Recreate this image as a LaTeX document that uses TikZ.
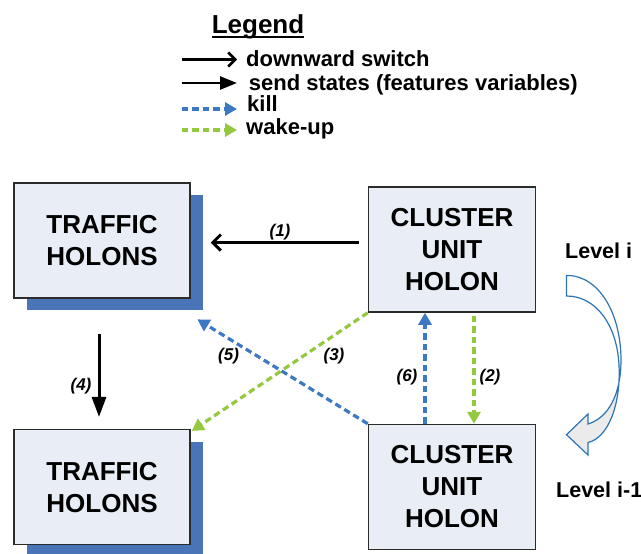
\documentclass[tikz,border=0pt]{standalone}
\usepackage{fontspec}
\setmainfont{Liberation Sans}
\usetikzlibrary{arrows.meta,shadows}
\definecolor{boxfill}{HTML}{E8EDF6}
\definecolor{shblue}{HTML}{4A74B8}
\definecolor{kblue}{HTML}{3D78C3}
\definecolor{wgreen}{HTML}{93C83F}
\definecolor{cblue}{HTML}{2E74B5}
\definecolor{cgray}{HTML}{EBEBEB}
\definecolor{bord}{HTML}{2B2B2B}
\begin{document}
\begin{tikzpicture}[x=1pt,y=-1pt,
  hbox/.style={draw=bord, line width=1.5pt, fill=boxfill, inner sep=0pt, align=center,
    font=\fontsize{26}{32}\selectfont\bfseries},
  tshadow/.style={drop shadow={shadow xshift=13pt, shadow yshift=-12pt, fill=shblue, opacity=1, draw=none}},
  lbl/.style={font=\fontsize{17}{20}\selectfont\bfseries\itshape, inner sep=0pt},
  legtxt/.style={font=\fontsize{22}{24}\selectfont\bfseries, inner sep=0pt, anchor=base west},
  lvl/.style={font=\fontsize{21.5}{24}\selectfont\bfseries, inner sep=0pt, anchor=base west},
  swarrow/.style={line width=3pt, -{Straight Barb[length=8pt,width=16pt]}},
  starrow/.style={line width=3pt, -{Triangle[length=20pt,width=14pt]}},
  killarrow/.style={draw=kblue, line width=3.2pt, dash pattern=on 6.5pt off 4pt, -{Triangle[length=12pt,width=13pt,fill=kblue]}},
  wakearrow/.style={draw=wgreen, line width=3.2pt, dash pattern=on 6.5pt off 4pt, -{Triangle[length=12pt,width=13pt,fill=wgreen]}}
]
\useasboundingbox (0,0) rectangle (641,554);

% Legend
\node[font=\fontsize{26}{30}\selectfont\bfseries, inner sep=0pt, anchor=base] (leg) at (258,33.6) {Legend};
\draw[line width=1.8pt] ([yshift=-3pt]leg.base west) -- ([yshift=-3pt]leg.base east);

\coordinate (la1) at (181.5,59.5); \coordinate (lb1) at (237,59.5);
\coordinate (la2) at (181.5,83);   \coordinate (lb2) at (237,83);
\coordinate (la3) at (181.5,109);  \coordinate (lb3) at (237,109);
\coordinate (la4) at (181.5,130);  \coordinate (lb4) at (237,130);
\draw[line width=2.5pt, -{Straight Barb[length=7pt,width=14pt]}] (la1) -- (lb1);
\draw[line width=2.5pt, -{Triangle[length=17pt,width=13pt]}] (la2) -- (lb2);
\draw[killarrow] (la3) -- (lb3);
\draw[wakearrow] (la4) -- (lb4);
\node[legtxt] (t1) at (246,66) {downward switch};
\node[legtxt] (t2) at (248.7,90) {send states (features variables)};
\node[legtxt] (t3) at (247,111.5) {kill};
\node[legtxt] (t4) at (246,134.5) {wake-up};

% Boxes
\node[hbox, tshadow, minimum width=176pt, minimum height=115pt] (th1) at (102,240.5) {TRAFFIC\\HOLONS};
\node[hbox, tshadow, minimum width=176pt, minimum height=115pt] (th2) at (102,487.2) {TRAFFIC\\HOLONS};
\node[hbox, minimum width=167pt, minimum height=125pt] (cu1) at (452,249.5) {CLUSTER\\UNIT\\HOLON};
\node[hbox, minimum width=167pt, minimum height=125pt] (cu2) at (452,487) {CLUSTER\\UNIT\\HOLON};

% Connectors
\draw[swarrow] ([xshift=-9pt,yshift=7pt]cu1.west) -- ([xshift=20pt,yshift=-2pt]th1.east);
\draw[starrow] ([xshift=-3pt,yshift=-35pt]th1.south) -- ([xshift=-3pt,yshift=12pt]th2.north);
\draw[wakearrow] (cu1.south west) -- ([xshift=1pt,yshift=-2pt]th2.north east);
\draw[killarrow] (cu2.north west) -- ([xshift=6.6pt,yshift=-20.6pt]th1.south east);
\draw[killarrow] ([xshift=-27pt]cu2.north) -- ([xshift=-27pt]cu1.south);
\draw[wakearrow] ([xshift=22pt,yshift=-3pt]cu1.south) -- ([xshift=22pt]cu2.north);

% Labels
\node[lbl] (l1) at (280,232) {(1)};
\node[lbl] (l2) at (490,377) {(2)};
\node[lbl] (l3) at (334,356) {(3)};
\node[lbl] (l4) at (81,386) {(4)};
\node[lbl] (l5) at (228.6,356) {(5)};
\node[lbl] (l6) at (407,377) {(6)};

% Levels
\node[lvl] (lv1) at (565,258) {Level i};
\node[lvl] (lv2) at (556,497) {Level i-1};

% Curved block arrow
\fill[cgray] (621,360) .. controls (621,395) and (608,418) .. (588,424) -- (588,414) -- (566.5,434.7) -- (588,455) -- (588,442.5) .. controls (608,438) and (621,405) .. (619,365) -- cycle;
\draw[cblue, line width=1.2pt, line join=miter]
  (566.5,275.4) .. controls (600,275.4) and (621,315) .. (621,360)
  .. controls (621,395) and (608,418) .. (588,424)
  -- (588,414) -- (566.5,434.7) -- (588,455) -- (588,442.5)
  .. controls (608,438) and (621,405) .. (619,365)
  .. controls (617,325) and (596,296) .. (566.5,296) -- cycle;
\end{tikzpicture}
\end{document}
